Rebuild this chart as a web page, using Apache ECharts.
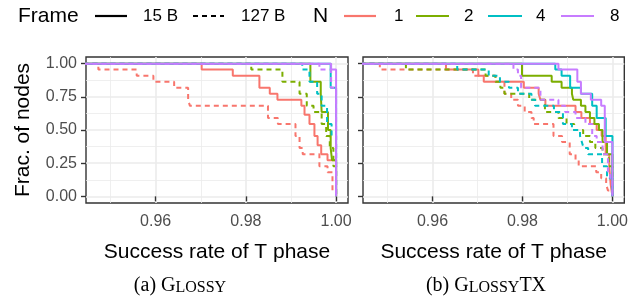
<!DOCTYPE html>
<html>
<head>
<meta charset="utf-8">
<script src="https://cdn.jsdelivr.net/npm/echarts@6/dist/echarts.min.js"></script>
<style>
html,body{margin:0;padding:0;background:#fff;}
#chart{width:631px;height:296px;}
</style>
</head>
<body>
<div id="chart"></div>
<script>
// ---------- data (success rate, fraction of nodes) ----------
const X_START = 0.944;            // left end of every step curve (fraction = 1)
const xTicks = [0.96, 0.98, 1.00];
const xMinorTicks = [0.95, 0.97, 0.99];
const yTicks = [0, 0.25, 0.5, 0.75, 1];
const yMinorTicks = [0.125, 0.375, 0.625, 0.875];
const panels = ['Glossy', 'GlossyTX'];
const nValues = ['1', '2', '4', '8'];
const frames = ['15 B', '127 B'];

// (a) Glossy
const glossy_n1_15B = [[0.9702,0.955],[0.9771,0.909],[0.9830,0.818],[0.9853,0.773],[0.9870,0.727],[0.9923,0.682],[0.9930,0.614],[0.9941,0.545],[0.9952,0.455],[0.9959,0.386],[0.9967,0.318],[0.9981,0.273],[1.0,0]];
const glossy_n1_127B = [[0.9473,0.955],[0.9558,0.909],[0.9595,0.864],[0.9641,0.818],[0.9672,0.727],[0.9676,0.682],[0.9849,0.591],[0.9871,0.545],[0.9910,0.455],[0.9919,0.364],[0.9926,0.318],[0.9963,0.227],[0.9981,0.182],[0.9992,0.045],[1.0,0]];
const glossy_n2_15B = [[0.9943,0.864],[0.9966,0.773],[0.9968,0.636],[0.9982,0.5],[0.9988,0.364],[0.9991,0.273],[1.0,0]];
const glossy_n2_127B = [[0.9812,0.955],[0.9881,0.864],[0.9919,0.773],[0.9935,0.682],[0.9950,0.636],[0.9968,0.545],[0.9978,0.455],[0.9986,0.364],[0.9994,0.227],[1.0,0]];
const glossy_n4_15B = [[0.9988,0.818],[1.0,0]];
const glossy_n4_127B = [[0.9925,0.955],[0.9941,0.864],[0.9958,0.773],[0.9968,0.682],[0.9980,0.545],[0.9990,0.455],[1.0,0]];
const glossy_n8_15B = [[0.9989,0.955],[1.0,0]];
const glossy_n8_127B = [[0.9963,0.955],[0.9989,0.818],[1.0,0]];

// (b) GlossyTX
const glossytx_n1_15B = [[0.9630,0.955],[0.9702,0.909],[0.9714,0.864],[0.9803,0.818],[0.9836,0.773],[0.9840,0.727],[0.9851,0.682],[0.9918,0.636],[0.9931,0.591],[0.9950,0.545],[0.9965,0.5],[0.9976,0.455],[0.9985,0.318],[0.9993,0.227],[0.9996,0.091],[1.0,0]];
const glossytx_n1_127B = [[0.9483,0.955],[0.9690,0.909],[0.9740,0.864],[0.9760,0.773],[0.9775,0.727],[0.9790,0.682],[0.9805,0.636],[0.9820,0.591],[0.9825,0.545],[0.9869,0.455],[0.9888,0.409],[0.9905,0.318],[0.9918,0.273],[0.9925,0.227],[0.9964,0.182],[0.9975,0.136],[0.9986,0.091],[0.9990,0.045],[1.0,0]];
const glossytx_n2_15B = [[0.9799,0.909],[0.9865,0.864],[0.9887,0.818],[0.9910,0.773],[0.9913,0.727],[0.9930,0.682],[0.9940,0.636],[0.9950,0.591],[0.9960,0.545],[0.9970,0.5],[0.9978,0.409],[0.9988,0.318],[1.0,0]];
const glossytx_n2_127B = [[0.9541,0.955],[0.9718,0.909],[0.9740,0.864],[0.9751,0.818],[0.9760,0.773],[0.9815,0.727],[0.9850,0.636],[0.9880,0.591],[0.9898,0.545],[0.9915,0.5],[0.9935,0.455],[0.9950,0.409],[0.9962,0.364],[0.9978,0.318],[0.9992,0.227],[1.0,0]];
const glossytx_n4_15B = [[0.9873,0.955],[0.9887,0.909],[0.9906,0.818],[0.9930,0.773],[0.9955,0.682],[0.9965,0.591],[0.9985,0.455],[1.0,0]];
const glossytx_n4_127B = [[0.9655,0.955],[0.9725,0.909],[0.9750,0.864],[0.9770,0.818],[0.9790,0.773],[0.9820,0.727],[0.9828,0.682],[0.9870,0.636],[0.9890,0.545],[0.9910,0.5],[0.9928,0.455],[0.9932,0.409],[0.9936,0.364],[0.9946,0.318],[0.9977,0.227],[0.9988,0.136],[1.0,0]];
const glossytx_n8_15B = [[0.9880,0.955],[0.9922,0.864],[0.9930,0.773],[0.9952,0.727],[0.9975,0.682],[0.9983,0.409],[1.0,0]];
const glossytx_n8_127B = [[0.9780,0.955],[0.9790,0.909],[0.9797,0.818],[0.9840,0.727],[0.9880,0.682],[0.9895,0.636],[0.9918,0.591],[0.9940,0.545],[0.9955,0.455],[0.9965,0.409],[0.9978,0.318],[0.9990,0.182],[0.9995,0.136],[1.0,0]];

const seriesData = {
  Glossy: {
    '1': [glossy_n1_15B, glossy_n1_127B], '2': [glossy_n2_15B, glossy_n2_127B],
    '4': [glossy_n4_15B, glossy_n4_127B], '8': [glossy_n8_15B, glossy_n8_127B]
  },
  GlossyTX: {
    '1': [glossytx_n1_15B, glossytx_n1_127B], '2': [glossytx_n2_15B, glossytx_n2_127B],
    '4': [glossytx_n4_15B, glossytx_n4_127B], '8': [glossytx_n8_15B, glossytx_n8_127B]
  }
};

// ---------- styling ----------
const COLORS = {'1':'#F8766D','2':'#7CAE00','4':'#00BFC4','8':'#C77CFF'};
const DASH = [5, 4];
const SANS = 'Liberation Sans';
const SERIF = 'Liberation Serif';
const X_MIN = 0.94456, X_MAX = 1.00264;
const Y_MIN = -0.05, Y_MAX = 1.05;
const gridBoxes = [
  {left: 86, top: 57, width: 262, height: 146},
  {left: 363, top: 57, width: 263, height: 146}
];

const chart = echarts.init(document.getElementById('chart'), null, {renderer: 'canvas'});

const grids = gridBoxes.map(b => Object.assign({show: true, borderColor: '#333333', borderWidth: 1.4, backgroundColor: '#fff'}, b));

const xAxes = [], yAxes = [];
panels.forEach((p, i) => {
  xAxes.push({
    gridIndex: i, type: 'value', min: X_MIN, max: X_MAX, position: 'bottom',
    axisLine: {show: false},
    axisTick: {show: true, length: 5, lineStyle: {color: '#333333', width: 1.4}, customValues: xTicks},
    axisLabel: {customValues: xTicks, formatter: v => v.toFixed(2), color: '#4D4D4D', fontSize: 16, fontFamily: SANS, margin: 11},
    splitLine: {show: true, lineStyle: {color: '#EBEBEB', width: 1.6}},
    name: 'Success rate of T phase', nameLocation: 'middle', nameGap: 39,
    nameTextStyle: {color: '#000', fontSize: 21, fontFamily: SANS}
  });
  xAxes.push({
    gridIndex: i, type: 'value', min: X_MIN, max: X_MAX, position: 'top',
    axisLine: {show: false}, axisLabel: {show: false},
    axisTick: {show: false, customValues: xMinorTicks},
    splitLine: {show: true, lineStyle: {color: '#EBEBEB', width: 0.8}}
  });
  yAxes.push({
    gridIndex: i, type: 'value', min: Y_MIN, max: Y_MAX, position: 'left',
    axisLine: {show: false},
    axisTick: {show: true, length: 5, lineStyle: {color: '#333333', width: 1.4}, customValues: yTicks},
    axisLabel: {show: i === 0, customValues: yTicks, formatter: v => v.toFixed(2), color: '#4D4D4D', fontSize: 16, fontFamily: SANS, margin: 9},
    splitLine: {show: true, lineStyle: {color: '#EBEBEB', width: 1.6}},
    name: i === 0 ? 'Frac. of nodes' : '', nameLocation: 'middle', nameGap: 52,
    nameTextStyle: {color: '#000', fontSize: 21, fontFamily: SANS}
  });
  yAxes.push({
    gridIndex: i, type: 'value', min: Y_MIN, max: Y_MAX, position: 'right',
    axisLine: {show: false}, axisLabel: {show: false},
    axisTick: {show: false, customValues: yMinorTicks},
    splitLine: {show: true, lineStyle: {color: '#EBEBEB', width: 0.8}}
  });
});

const series = [];
panels.forEach((p, i) => {
  nValues.forEach(n => {
    frames.forEach((f, k) => {
      series.push({
        name: p + ' N=' + n + ' ' + f,
        type: 'line', step: 'end', showSymbol: false, symbol: 'none',
        xAxisIndex: i * 2, yAxisIndex: i * 2, clip: true,
        data: [[X_START, 1]].concat(seriesData[p][n][k]),
        lineStyle: {color: COLORS[n], width: 2, type: k === 0 ? 'solid' : DASH},
        emphasis: {disabled: true}
      });
    });
  });
});

// ---------- legend (drawn as graphics) ----------
const LY = 16;
const graphic = [
  {type: 'text', style: {text: 'Frame', x: 18, y: LY, fontSize: 21, fontFamily: SANS, fill: '#000', verticalAlign: 'middle'}},
  {type: 'line', shape: {x1: 95, y1: LY, x2: 127, y2: LY}, style: {stroke: '#000', lineWidth: 2.2}},
  {type: 'text', style: {text: frames[0], x: 143, y: LY, fontSize: 17, fontFamily: SANS, fill: '#000', verticalAlign: 'middle'}},
  {type: 'line', shape: {x1: 193, y1: LY, x2: 224, y2: LY}, style: {stroke: '#000', lineWidth: 2.2, lineDash: DASH}},
  {type: 'text', style: {text: frames[1], x: 241, y: LY, fontSize: 17, fontFamily: SANS, fill: '#000', verticalAlign: 'middle'}},
  {type: 'text', style: {text: 'N', x: 313, y: LY, fontSize: 21, fontFamily: SANS, fill: '#000', verticalAlign: 'middle'}}
];
const legendN = [[344, 376, 394], [416, 449, 464], [488, 522, 536], [561, 594, 610]];
nValues.forEach((n, j) => {
  const [a, b, t] = legendN[j];
  graphic.push({type: 'line', shape: {x1: a, y1: LY, x2: b, y2: LY}, style: {stroke: COLORS[n], lineWidth: 2.2}});
  graphic.push({type: 'text', style: {text: n, x: t, y: LY, fontSize: 17, fontFamily: SANS, fill: '#000', verticalAlign: 'middle'}});
});
// captions
const capRich = {
  a: {fontSize: 20, fontFamily: SERIF, fill: '#000', color: '#000', verticalAlign: 'bottom'},
  b: {fontSize: 16, fontFamily: SERIF, fill: '#000', color: '#000', verticalAlign: 'bottom'}
};
graphic.push({type: 'text', style: {text: '{a|(a) G}{b|LOSSY}', rich: capRich, x: 180, y: 296, align: 'center', verticalAlign: 'bottom'}});
graphic.push({type: 'text', style: {text: '{a|(b) G}{b|LOSSY}{a|TX}', rich: capRich, x: 486, y: 296, align: 'center', verticalAlign: 'bottom'}});

chart.setOption({
  animation: false,
  backgroundColor: '#fff',
  grid: grids,
  xAxis: xAxes,
  yAxis: yAxes,
  series: series,
  graphic: graphic
});
</script>
</body>
</html>
